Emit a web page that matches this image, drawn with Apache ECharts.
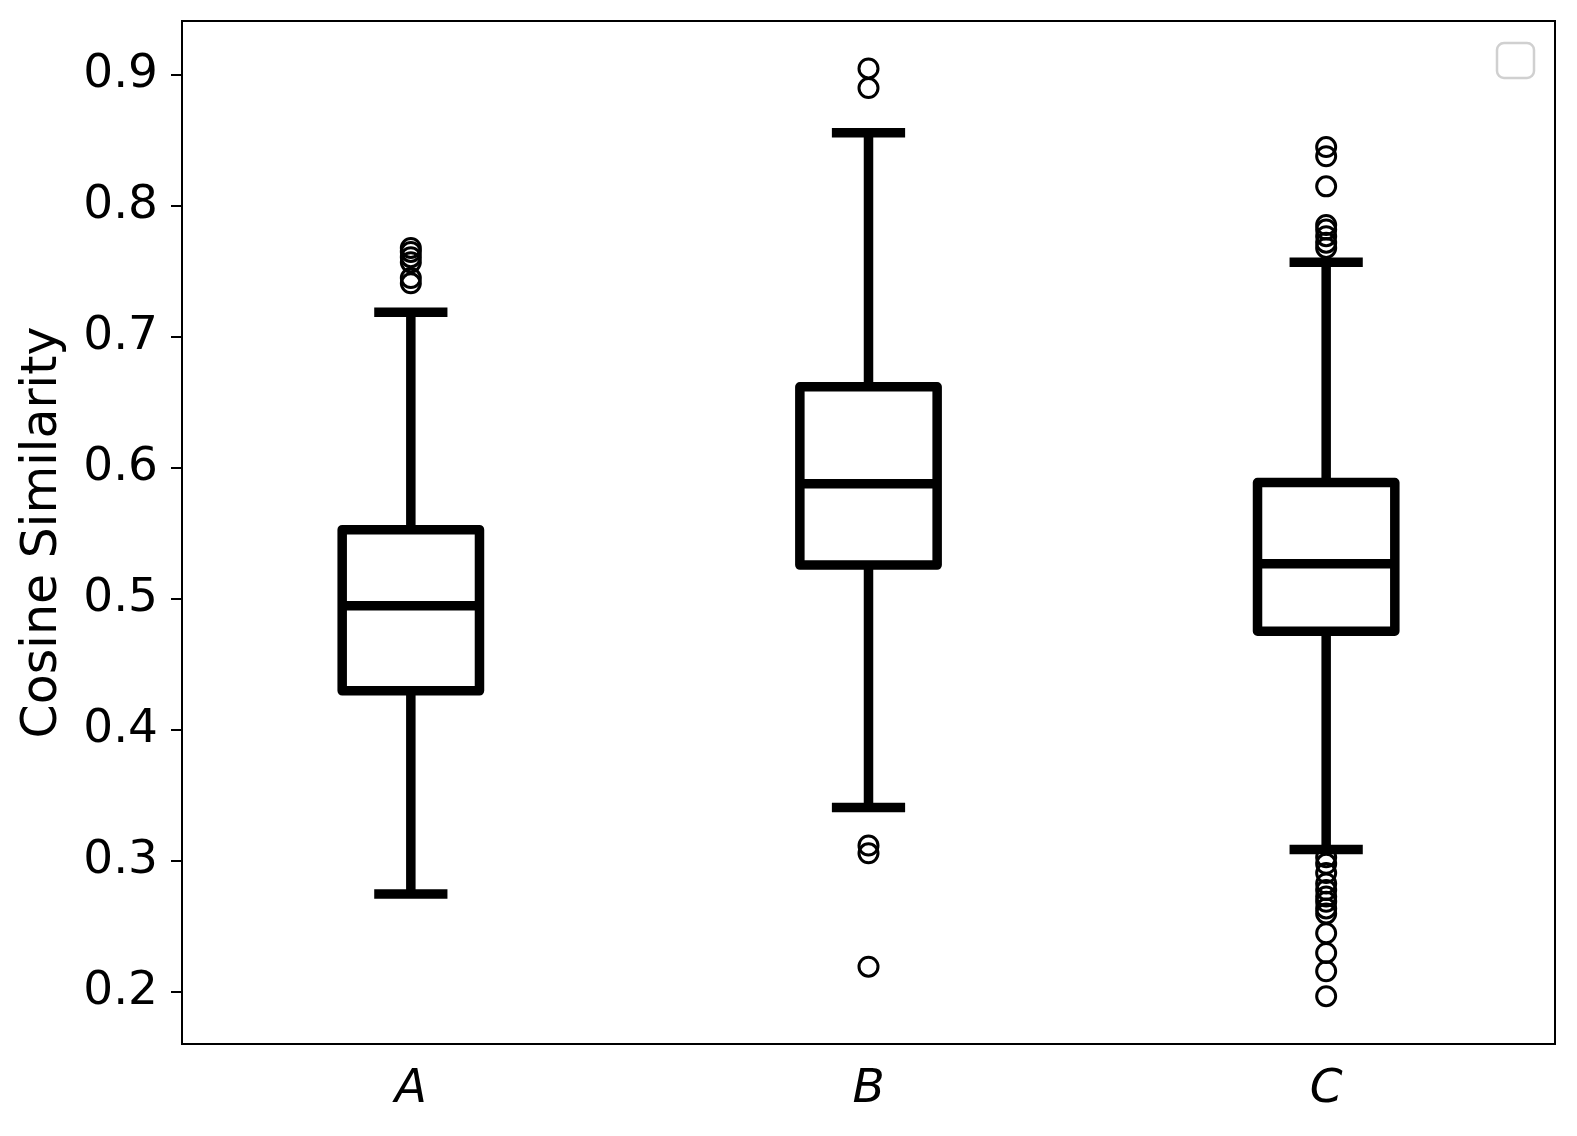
<!DOCTYPE html>
<html>
<head>
<meta charset="utf-8">
<script src="https://cdn.jsdelivr.net/npm/echarts@6/dist/echarts.min.js"></script>
<style>
  html, body { margin: 0; padding: 0; background: #fff; }
  #main { width: 1577px; height: 1136px; }
</style>
</head>
<body>
<div id="main"></div>
<script>
// groups on the x axis
var groups = ['A', 'B', 'C'];
// box stats per group: whisker low, Q1, median, Q3, whisker high
var whiskLow = [0.275, 0.341, 0.309];
var q1Vals = [0.430, 0.526, 0.4755];
var medVals = [0.495, 0.588, 0.527];
var q3Vals = [0.553, 0.662, 0.589];
var whiskHigh = [0.719, 0.856, 0.757];
// fliers
var outA = [0.768, 0.765, 0.761, 0.757, 0.745, 0.741];
var outB = [0.905, 0.890, 0.312, 0.306, 0.2195];
var outC = [0.845, 0.838, 0.815, 0.7855, 0.782, 0.777, 0.772, 0.768,
            0.303, 0.298, 0.291, 0.283, 0.278, 0.273, 0.269, 0.264, 0.260, 0.245, 0.230, 0.216, 0.197];
var yTicks = [0.2, 0.3, 0.4, 0.5, 0.6, 0.7, 0.8, 0.9];

var boxData = groups.map(function (g, i) {
    return [i, whiskLow[i], q1Vals[i], medVals[i], q3Vals[i], whiskHigh[i]];
});
var fliers = [];
[outA, outB, outC].forEach(function (arr, i) {
    arr.forEach(function (v) { fliers.push([i, v]); });
});

var font = 'DejaVu Sans';
var chart = echarts.init(document.getElementById('main'));

function lineStyle() {
    return { stroke: '#000', lineWidth: 9.5, fill: null, lineJoin: 'round' };
}

function renderBox(params, api) {
    var x = api.value(0);
    var low = api.coord([x, api.value(1)]);
    var q1 = api.coord([x, api.value(2)]);
    var med = api.coord([x, api.value(3)]);
    var q3 = api.coord([x, api.value(4)]);
    var high = api.coord([x, api.value(5)]);
    var band = api.size([1, 0])[0];
    var hw = band * 0.15;
    var cw = band * 0.08;
    var cx = med[0];
    return {
        type: 'group',
        children: [
            { type: 'line', shape: { x1: cx, y1: q3[1], x2: cx, y2: high[1] }, style: lineStyle() },
            { type: 'line', shape: { x1: cx, y1: q1[1], x2: cx, y2: low[1] }, style: lineStyle() },
            { type: 'line', shape: { x1: cx - cw, y1: high[1], x2: cx + cw, y2: high[1] }, style: lineStyle() },
            { type: 'line', shape: { x1: cx - cw, y1: low[1], x2: cx + cw, y2: low[1] }, style: lineStyle() },
            { type: 'rect', shape: { x: cx - hw, y: q3[1], width: 2 * hw, height: q1[1] - q3[1] }, style: lineStyle() },
            { type: 'line', shape: { x1: cx - hw, y1: med[1], x2: cx + hw, y2: med[1] }, style: lineStyle() }
        ]
    };
}

var option = {
    animation: false,
    backgroundColor: '#fff',
    grid: {
        left: 182, right: 22, top: 21, bottom: 92,
        show: true, borderColor: '#000', borderWidth: 2, backgroundColor: 'transparent'
    },
    xAxis: {
        type: 'category',
        data: groups,
        axisLine: { lineStyle: { color: '#000', width: 2 } },
        axisTick: { alignWithLabel: true, length: 11, lineStyle: { color: '#000', width: 2 } },
        axisLabel: { color: '#000', fontSize: 47, fontStyle: 'italic', fontFamily: font, margin: 22 },
        splitLine: { show: false }
    },
    yAxis: {
        type: 'value',
        min: 0.1605,
        max: 0.9412,
        name: 'Cosine Similarity',
        nameLocation: 'middle',
        nameGap: 114,
        nameTextStyle: { color: '#000', fontSize: 49, fontFamily: font },
        axisLine: { show: true, lineStyle: { color: '#000', width: 2 } },
        axisTick: { show: true, length: 11, customValues: yTicks, lineStyle: { color: '#000', width: 2 } },
        axisLabel: {
            color: '#000', fontSize: 47, fontFamily: font, margin: 24,
            customValues: yTicks,
            formatter: function (v) { return v.toFixed(1); }
        },
        splitLine: { show: false }
    },
    graphic: [{
        type: 'rect',
        shape: { x: 1497, y: 43, width: 37, height: 35, r: 7 },
        style: { fill: '#fff', stroke: '#d0d0d0', lineWidth: 2.5 }
    }],
    series: [
        {
            type: 'custom',
            renderItem: renderBox,
            encode: { x: 0, y: [1, 2, 3, 4, 5] },
            data: boxData,
            z: 2
        },
        {
            type: 'scatter',
            data: fliers,
            symbol: 'circle',
            symbolSize: 19,
            itemStyle: { color: 'rgba(0,0,0,0)', borderColor: '#000', borderWidth: 3, opacity: 1 },
            z: 3
        }
    ]
};
chart.setOption(option);
</script>
</body>
</html>
